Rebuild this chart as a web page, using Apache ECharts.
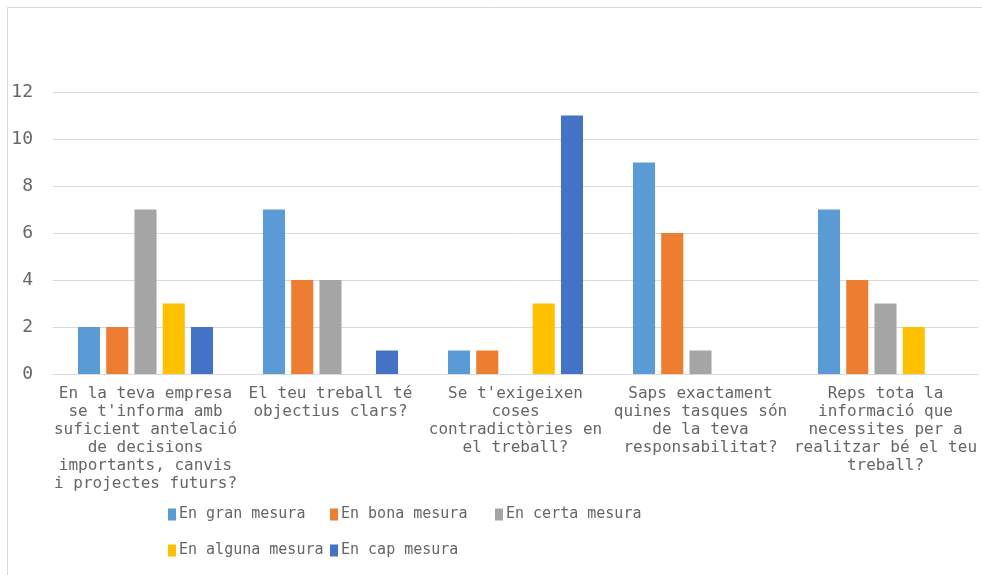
<!DOCTYPE html>
<html>
<head>
<meta charset="utf-8">
<script src="https://cdn.jsdelivr.net/npm/echarts@6/dist/echarts.min.js"></script>
<style>
html,body{margin:0;padding:0;background:#fff;}
#c{width:982px;height:575px;}
</style>
</head>
<body>
<div id="c"></div>
<script>
const categories = [
  "En la teva empresa\nse t'informa amb\nsuficient antelació\nde decisions\nimportants, canvis\ni projectes futurs?",
  "El teu treball té\nobjectius clars?",
  "Se t'exigeixen\ncoses\ncontradictòries en\nel treball?",
  "Saps exactament\nquines tasques són\nde la teva\nresponsabilitat?",
  "Reps tota la\ninformació que\nnecessites per a\nrealitzar bé el teu\ntreball?"
];
const seriesNames = ["En gran mesura", "En bona mesura", "En certa mesura", "En alguna mesura", "En cap mesura"];
const granMesura = [2, 7, 1, 9, 7];
const bonaMesura = [2, 4, 1, 6, 4];
const certaMesura = [7, 4, 0, 1, 3];
const algunaMesura = [3, 0, 3, 0, 2];
const capMesura = [2, 1, 11, 0, 0];
const yTicks = [0, 2, 4, 6, 8, 10, 12];

const colors = ['#5B9BD5', '#ED7D31', '#A5A5A5', '#FFC000', '#4472C4'];
const values = [granMesura, bonaMesura, certaMesura, algunaMesura, capMesura];
const font = "DejaVu Sans Mono";
const txt = '#666666';

const legendPos = [
  {left: 168, top: 507}, {left: 330, top: 507}, {left: 495, top: 507},
  {left: 168, top: 543}, {left: 330, top: 543}
];

const chart = echarts.init(document.getElementById('c'), null, {renderer: 'canvas'});
chart.setOption({
  animation: false,
  color: colors,
  textStyle: {fontFamily: font},
  graphic: [{
    type: 'rect', shape: {x: 7.5, y: 7.5, width: 1100, height: 700},
    style: {fill: 'none', stroke: '#D9D9D9', lineWidth: 1}, silent: true
  }],
  legend: seriesNames.map((n, i) => ({
    data: [n], left: legendPos[i].left, top: legendPos[i].top,
    itemWidth: 8, itemHeight: 12, itemGap: 0, padding: 0,
    icon: 'rect',
    textStyle: {fontFamily: font, fontSize: 15, color: txt, padding: [0, 0, 0, -2]}
  })),
  grid: {left: 53, right: 4, top: 92, bottom: 201, containLabel: false},
  xAxis: {
    type: 'category', data: categories,
    axisLine: {lineStyle: {color: '#D9D9D9'}},
    axisTick: {show: false},
    axisLabel: {interval: 0, fontFamily: font, fontSize: 16, color: txt, lineHeight: 18, margin: 11, align: 'center'}
  },
  yAxis: {
    type: 'value', min: yTicks[0], max: yTicks[yTicks.length - 1], interval: 2,
    axisLine: {show: false}, axisTick: {show: false},
    splitLine: {lineStyle: {color: '#D9D9D9'}},
    axisLabel: {fontFamily: font, fontSize: 18, color: txt, margin: 20, padding: [3, 0, 0, 0]}
  },
  series: seriesNames.map((n, i) => ({
    name: n, type: 'bar', data: values[i],
    barGap: '28%', barCategoryGap: '27%',
    itemStyle: {color: colors[i]}
  }))
});
</script>
</body>
</html>
